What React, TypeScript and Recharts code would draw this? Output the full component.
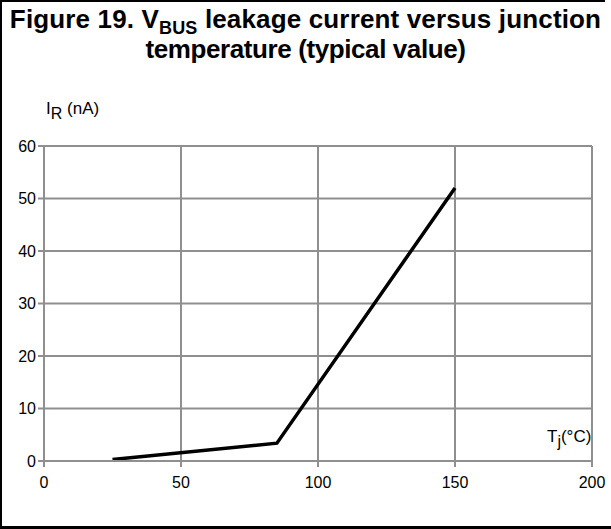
import { CartesianGrid, Line, LineChart, XAxis, YAxis } from "recharts";

const temps = [25, 85, 150];
const leakage = [0.3, 3.4, 52];
const xTicks = [0, 50, 100, 150, 200];
const yTicks = [0, 10, 20, 30, 40, 50, 60];

const data = temps.map((t, i) => ({ t, ir: leakage[i] }));

const font = "'Liberation Sans', Arial, sans-serif";
const grid = "#8f8f8f";

export default function App() {
  return (
    <div
      style={{
        position: "absolute",
        left: 0,
        top: 0,
        width: 611,
        height: 529,
        background: "#fff",
        fontFamily: font,
        color: "#000",
      }}
    >
      {/* frame */}
      <div style={{ position: "absolute", left: 0, top: 0, width: 605, height: 2, background: "#000" }} />
      <div style={{ position: "absolute", left: 0, top: 0, width: 2, height: 529, background: "#000" }} />
      <div style={{ position: "absolute", left: 0, top: 526, width: 611, height: 3, background: "#000" }} />

      <div
        style={{
          position: "absolute",
          left: 0,
          top: 4,
          width: 611,
          textAlign: "center",
          fontWeight: "bold",
          fontSize: 26,
          lineHeight: "30px",
        }}
      >
        <div style={{ letterSpacing: 0.15 }}>
          Figure 19. V<sub style={{ fontSize: 18, verticalAlign: -6, lineHeight: 0 }}>BUS</sub> leakage current versus junction
        </div>
        <div style={{ letterSpacing: -0.4 }}>temperature (typical value)</div>
      </div>

      <div style={{ position: "absolute", left: 46, top: 99, fontSize: 17 }}>
        I<sub style={{ fontSize: 16, verticalAlign: -5, lineHeight: 0 }}>R</sub> (nA)
      </div>
      <div style={{ position: "absolute", left: 547, top: 427, fontSize: 17 }}>
        T<sub style={{ fontSize: 16, verticalAlign: -5, lineHeight: 0 }}>j</sub>(°C)
      </div>

      <div style={{ position: "absolute", left: 0, top: 0 }}>
        <LineChart width={611} height={529} data={data} margin={{ top: 146, right: 19, bottom: 0, left: 0 }}>
          <CartesianGrid stroke={grid} strokeWidth={2} />
          <XAxis
            type="number"
            dataKey="t"
            domain={[0, 200]}
            ticks={xTicks}
            height={68}
            stroke={grid}
            strokeWidth={2}
            tickSize={6}
            tickMargin={6}
            tick={{ fill: "#000", fontSize: 16, fontFamily: font, dy: 4 }}
          />
          <YAxis
            type="number"
            domain={[0, 60]}
            ticks={yTicks}
            width={44}
            stroke={grid}
            strokeWidth={2}
            tickSize={6}
            tickMargin={2}
            tick={{ fill: "#000", fontSize: 16, fontFamily: font }}
          />
          <Line
            dataKey="ir"
            stroke="#000"
            strokeWidth={3.5}
            dot={false}
            isAnimationActive={false}
          />
        </LineChart>
      </div>
    </div>
  );
}
